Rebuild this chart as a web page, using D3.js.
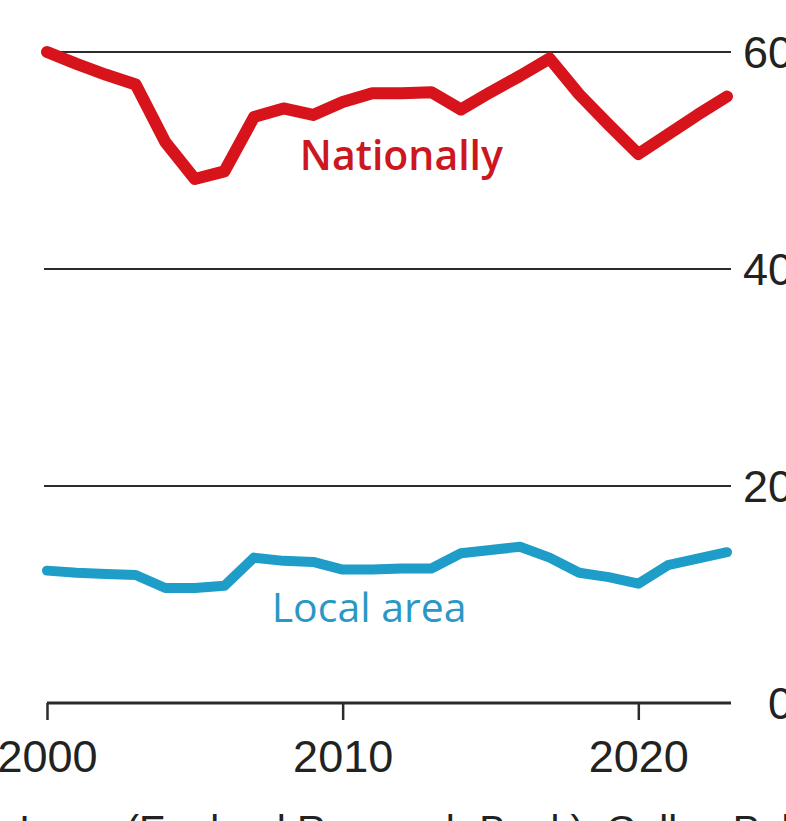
<!DOCTYPE html>
<html>
<head>
<meta charset="utf-8">
<script src="https://cdn.jsdelivr.net/npm/d3@7"></script>
<style>
  html, body { margin: 0; padding: 0; background: #fff; overflow: hidden; }
  svg { display: block; }
</style>
</head>
<body>
<svg id="chart" width="786" height="821"></svg>
<script>
const years = [2000,2001,2002,2003,2004,2005,2006,2007,2008,2009,2010,2011,2012,2013,2014,2015,2016,2017,2018,2019,2020,2021,2022,2023];
const nationally = [60.0,58.9,57.9,57.0,51.7,48.3,49.0,54.0,54.8,54.2,55.4,56.2,56.2,56.3,54.7,56.3,57.8,59.4,56.1,53.3,50.6,52.4,54.2,55.9];
const localArea = [12.2,12.0,11.9,11.8,10.6,10.6,10.8,13.4,13.1,13.0,12.3,12.3,12.4,12.4,13.8,14.1,14.4,13.4,12.0,11.6,11.0,12.7,13.3,13.9];
const yTicks = [0,20,40,60];
const xTicks = [2000,2010,2020];
const seriesNames = ["Nationally","Local area"];
const sourceText = "Sources: Ipsos (England Research Bank); Gallup Poll Social Series";

const svg = d3.select("#chart");
const x = d3.scaleLinear().domain([2000, 2023]).range([47, 727]);
const y = d3.scaleLinear().domain([0, 60]).range([703, 52]);

// gridlines
svg.append("g").selectAll("line").data(yTicks.filter(d => d > 0)).join("line")
  .attr("x1", 44).attr("x2", 731)
  .attr("y1", d => y(d)).attr("y2", d => y(d))
  .attr("stroke", "#2b2b2b").attr("stroke-width", 2.2);

// right y labels
svg.append("g").selectAll("text").data(yTicks).join("text")
  .attr("x", 793).attr("y", d => y(d))
  .attr("dy", "0.36em")
  .attr("text-anchor", "end")
  .attr("font-family", "Liberation Sans, Arial, sans-serif")
  .attr("font-size", 45)
  .attr("fill", "#222")
  .text(d => d);

// x axis
const xAxis = d3.axisBottom(x).tickValues(xTicks).tickFormat(d3.format("d")).tickSize(17).tickPadding(20).tickSizeOuter(0);
const gx = svg.append("g").attr("transform", `translate(0,${y(0)})`).call(xAxis);
gx.select(".domain").attr("stroke", "#2b2b2b").attr("stroke-width", 3).attr("d", `M47,0H731`);
gx.selectAll(".tick line").attr("stroke", "#2b2b2b").attr("stroke-width", 2.5);
gx.selectAll(".tick text")
  .attr("font-family", "Liberation Sans, Arial, sans-serif")
  .attr("font-size", 45)
  .attr("fill", "#222");

const line = d3.line().x((d, i) => x(years[i])).y(d => y(d));

svg.append("path").datum(localArea)
  .attr("d", line).attr("fill", "none")
  .attr("stroke", "#1d9dc8").attr("stroke-width", 10)
  .attr("stroke-linejoin", "round").attr("stroke-linecap", "round");

svg.append("path").datum(nationally)
  .attr("d", line).attr("fill", "none")
  .attr("stroke", "#d7131c").attr("stroke-width", 12)
  .attr("stroke-linejoin", "round").attr("stroke-linecap", "round");

// series labels
svg.append("text")
  .attr("x", x(2008.55)).attr("y", y(49.1))
  .attr("text-anchor", "start")
  .attr("font-family", "Open Sans, sans-serif").attr("font-weight", 600)
  .attr("font-size", 41).attr("fill", "#cc1720")
  .text(seriesNames[0]);

svg.append("text")
  .attr("x", x(2007.6)).attr("y", y(7.5))
  .attr("text-anchor", "start")
  .attr("font-family", "Open Sans, sans-serif").attr("font-weight", 500)
  .attr("font-size", 41).attr("fill", "#2a98c4")
  .text(seriesNames[1]);

// source (cropped at bottom)
svg.append("text")
  .attr("x", -150).attr("y", 844)
  .attr("font-family", "Liberation Sans, Arial, sans-serif")
  .attr("font-size", 40).attr("fill", "#222")
  .text(sourceText);
</script>
</body>
</html>
